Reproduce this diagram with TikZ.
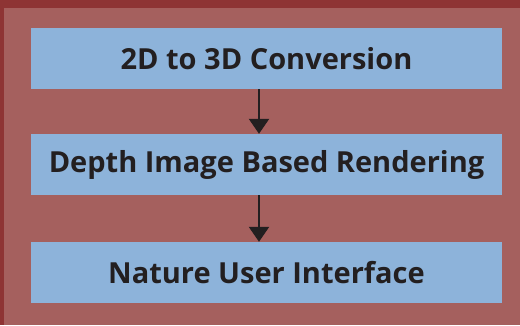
\documentclass[tikz,border=0pt]{standalone}
\usepackage{fontspec}
\setmainfont{Open Sans}
\usetikzlibrary{arrows.meta}
\definecolor{frame}{HTML}{8E3434}
\definecolor{back}{HTML}{A5605E}
\definecolor{boxblue}{HTML}{8DB3DA}
\definecolor{ink}{HTML}{231F20}
\begin{document}
\begin{tikzpicture}[x=1pt,y=-1pt,
  stage/.style={fill=boxblue,minimum width=471pt,minimum height=61pt,inner sep=0pt,
    text=ink,font=\fontsize{29}{32}\selectfont\bfseries},
  flow/.style={ink,line width=2.4pt,-{Triangle[width=20pt,length=15pt]}}]
 \fill[frame](0,0) rectangle (520,325);
 \fill[back](4,8) rectangle (520,325);
 \node[stage] (conv) at (266.5,58.5) {2D to 3D Conversion};
 \node[stage] (dibr) at (266.5,164.5) {Depth Image Based Rendering};
 \node[stage] (nui) at (266.5,272.5) {Nature User Interface};
 \coordinate (axis) at (259,0);
 \draw[flow](conv.south -| axis) -- (dibr.north -| axis);
 \draw[flow](dibr.south -| axis) -- (nui.north -| axis);
\end{tikzpicture}
\end{document}
